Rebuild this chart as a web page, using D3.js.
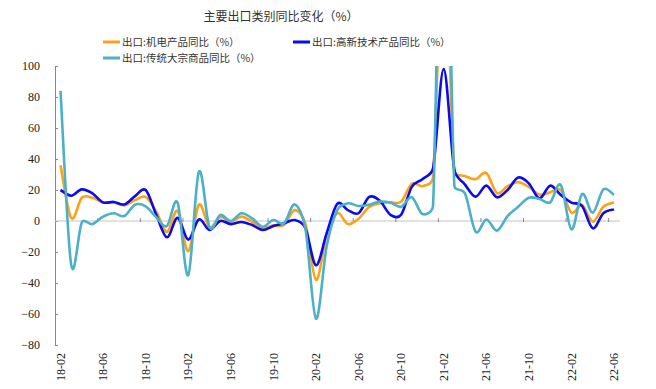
<!DOCTYPE html>
<html>
<head>
<meta charset="utf-8">
<script src="https://cdn.jsdelivr.net/npm/d3@7"></script>
<style>
  body { margin: 0; background: #fff; }
  svg { display: block; }
</style>
</head>
<body>
<svg id="chart"></svg>
<script>
const width = 656;
const height = 389;

// months 2018-02 .. 2022-06
const months = [];
for (let y = 2018; y <= 2022; y++) {
  for (let m = 1; m <= 12; m++) {
    if (y === 2018 && m < 2) continue;
    if (y === 2022 && m > 6) continue;
    months.push(String(y % 100).padStart(2, "0") + "-" + String(m).padStart(2, "0"));
  }
}

const tickLabels = ["18-02", "18-06", "18-10", "19-02", "19-06", "19-10", "20-02",
  "20-06", "20-10", "21-02", "21-06", "21-10", "22-02", "22-06"];

const yTicks = [100, 80, 60, 40, 20, 0, -20, -40, -60, -80];

// 出口:机电产品同比
const mechElec = [36, 2, 15, 15, 12, 12, 10, 13.5, 15.5, 6, -7, 6.5, -19.5,
  10.5, -4, 2.5, -0.5, 2.8, -0.5, -4.7, -2.8, -2.6, 7, -1.5, -38, -9, 5, -2,
  1.5, 9, 11.5, 12, 12.5, 24, 22.5, 28, 190, 32, 29, 27, 31, 18, 22.5, 25, 22,
  17, 18.5, 20, 5.4, 10.3, -0.4, 9.2, 12];

// 出口:高新技术产品同比
const hiTech = [20, 16.3, 20.4, 17.8, 12, 12.3, 10.7, 16, 20, 4, -10.5, 2, -12,
  1, -5.8, 0, -2, -0.6, -2.6, -5.8, -3.2, -1.5, 0.6, -4.5, -28.5, -8, 11, 7, 5,
  15.5, 13, 4, 4, 22, 27, 34, 98, 33, 23.5, 15.7, 22.8, 15.3, 20, 28, 24.3,
  14.6, 22.8, 16.8, 11.8, 9.7, -4.7, 5, 7.5];

// 出口:传统大宗商品同比
const traditional = [84, -28, -1, -2, 2.8, 5, 3.2, 10.5, 9.5, 2.4, -3.2, 11.8,
  -35, 31.8, -4, 3.9, 0, 5, 1.7, -3.7, 0.6, -1.5, 10.7, -4.5, -63, -16.5, 7,
  11.4, 9.7, 10.5, 12.5, 11.8, 9.2, 15.3, 4.5, 10, 300, 23, 17.8, -6.9, 1,
  -6.2, 3.2, 9.2, 15, 14.2, 12, 23.2, -5.4, 17.4, 5.4, 20.4, 16.8];

const seriesNames = ["出口:机电产品同比（%）", "出口:高新技术产品同比（%）", "出口:传统大宗商品同比（%）"];
const seriesColors = ["#ffa114", "#0b0bef", "#4bb0c8"];
const seriesValues = [mechElec, hiTech, traditional];

const margin = { left: 55, right: 36, top: 66, bottom: 44 };

const svg = d3.select("#chart")
  .attr("width", width)
  .attr("height", height);

const x = d3.scalePoint()
  .domain(months)
  .range([60.5, 614]);

const y = d3.scaleLinear()
  .domain([-80, 100])
  .range([height - margin.bottom, margin.top]);

const step = x.step();

// title
svg.append("text")
  .attr("x", 281)
  .attr("y", 21)
  .attr("text-anchor", "middle")
  .attr("font-family", "'Noto Sans CJK SC', sans-serif")
  .attr("font-size", 12)
  .attr("fill", "#333")
  .text("主要出口类别同比变化（%）");

// legend
const legendPos = [[103, 42], [293, 42], [103, 58]];
const legend = svg.append("g")
  .selectAll("g")
  .data(seriesNames)
  .enter().append("g")
    .attr("transform", (d, i) => "translate(" + legendPos[i][0] + "," + legendPos[i][1] + ")");

legend.append("line")
  .attr("x1", 0)
  .attr("x2", 17)
  .attr("stroke", (d, i) => seriesColors[i])
  .attr("stroke-width", 3);

legend.append("text")
  .attr("x", 19)
  .attr("dy", "0.36em")
  .attr("font-family", "'Noto Sans CJK SC', sans-serif")
  .attr("font-size", 10.5)
  .attr("fill", "#333")
  .text(d => d);

// y axis
const yAxis = svg.append("g")
  .attr("transform", "translate(" + margin.left + ",0)")
  .call(d3.axisLeft(y).tickValues(yTicks).tickSizeInner(-3).tickSizeOuter(0).tickPadding(15));

yAxis.select(".domain").attr("stroke", "#888");
yAxis.selectAll(".tick line").attr("stroke", "#888");
yAxis.selectAll("text")
  .attr("font-family", "'Liberation Serif', serif")
  .attr("font-size", 12)
  .attr("fill", "#222");

// zero line with small ticks
const y0 = y(0);
svg.append("line")
  .attr("x1", margin.left)
  .attr("x2", 620)
  .attr("y1", y0)
  .attr("y2", y0)
  .attr("stroke", "#c4c4c4")
  .attr("stroke-width", 1.2);

svg.append("g")
  .selectAll("line")
  .data(tickLabels.slice(1))
  .enter().append("line")
    .attr("x1", d => x(d) - step / 2)
    .attr("x2", d => x(d) - step / 2)
    .attr("y1", y0 - 3)
    .attr("y2", y0 + 1)
    .attr("stroke", "#888");

// x labels, rotated
svg.append("g")
  .selectAll("text")
  .data(tickLabels)
  .enter().append("text")
    .attr("transform", d => "translate(" + x(d) + "," + 353 + ") rotate(-90)")
    .attr("text-anchor", "end")
    .attr("dy", "0.35em")
    .attr("font-family", "'Liberation Serif', serif")
    .attr("font-size", 12)
    .attr("fill", "#222")
    .text(d => d);

// spreadsheet-style smoothing: bezier with 1/6 tangents, capped at half the segment
function dist(a, b) {
  return Math.hypot(a[0] - b[0], a[1] - b[1]);
}

function smoothPath(values) {
  const pts = values.map((v, i) => [x(months[i]), y(v)]);
  const p = d3.path();
  p.moveTo(pts[0][0], pts[0][1]);
  for (let i = 0; i < pts.length - 1; i++) {
    const p0 = pts[Math.max(i - 1, 0)];
    const p1 = pts[i];
    const p2 = pts[i + 1];
    const p3 = pts[Math.min(i + 2, pts.length - 1)];
    const d12 = dist(p1, p2), d02 = dist(p0, p2), d13 = dist(p1, p3);
    let f = 1 / 6, g = 1 / 6;
    if (d02 > 0 && d02 * f > d12 / 2) f = d12 / 2 / d02;
    if (d13 > 0 && d13 * g > d12 / 2) g = d12 / 2 / d13;
    p.bezierCurveTo(
      p1[0] + (p2[0] - p0[0]) * f, p1[1] + (p2[1] - p0[1]) * f,
      p2[0] - (p3[0] - p1[0]) * g, p2[1] - (p3[1] - p1[1]) * g,
      p2[0], p2[1]);
  }
  return p.toString();
}

// lines
svg.append("clipPath")
  .attr("id", "plot-clip")
  .append("rect")
    .attr("x", margin.left)
    .attr("y", margin.top)
    .attr("width", 600)
    .attr("height", height - margin.bottom - margin.top);

svg.append("g")
  .attr("clip-path", "url(#plot-clip)")
  .selectAll("path")
  .data(seriesValues)
  .enter().append("path")
    .attr("d", smoothPath)
    .attr("fill", "none")
    .attr("stroke", (d, i) => seriesColors[i])
    .attr("stroke-width", 2.6)
    .attr("stroke-linejoin", "round");
</script>
</body>
</html>
